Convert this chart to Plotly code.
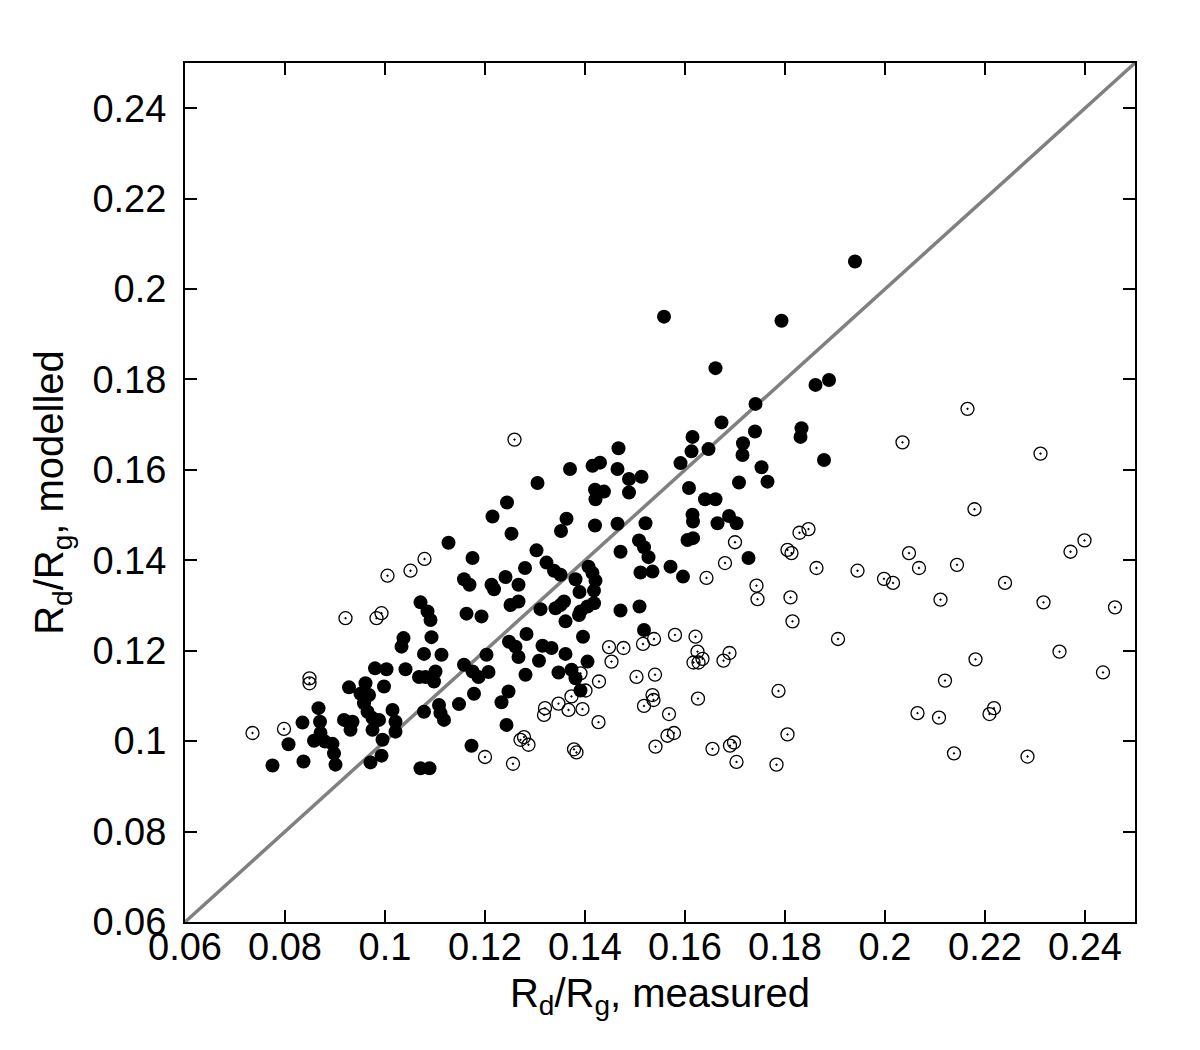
import plotly.graph_objects as go

# filled symbols
filled_x = [0.1940, 0.1558, 0.1793, 0.1661, 0.1861, 0.1888, 0.1741, 0.1878, 0.1673, 0.1740,
            0.1833, 0.1831, 0.1615, 0.1613, 0.1647, 0.1716, 0.1715, 0.1591, 0.1753, 0.1765,
            0.1708, 0.1513, 0.1608, 0.1640, 0.1661, 0.1615, 0.1616, 0.1665, 0.1688, 0.1703,
            0.1521, 0.1605, 0.1616, 0.1508, 0.1518, 0.1527, 0.1727, 0.1571, 0.1511, 0.1535,
            0.1596, 0.1509, 0.1518, 0.1467, 0.1370, 0.1415, 0.1430, 0.1465, 0.1488, 0.1305,
            0.1420, 0.1438, 0.1421, 0.1488, 0.1244, 0.1215, 0.1253, 0.1363, 0.1352, 0.1420,
            0.1465, 0.1127, 0.1303, 0.1471, 0.1175, 0.1323, 0.1338, 0.1351, 0.1381, 0.1407,
            0.1415, 0.1421, 0.1280, 0.1241, 0.1267, 0.1158, 0.1169, 0.1213, 0.1218, 0.1389,
            0.1418, 0.1418, 0.1405, 0.1391, 0.1388, 0.1358, 0.1351, 0.1341, 0.1311, 0.1251,
            0.1267, 0.1471, 0.1361, 0.1163, 0.1193, 0.1283, 0.1396, 0.1248, 0.1261, 0.1267,
            0.1315, 0.1333, 0.1361, 0.1308, 0.1113, 0.1203, 0.1405, 0.1158, 0.1175, 0.1187,
            0.1207, 0.1281, 0.1347, 0.1373, 0.1381, 0.1391, 0.1178, 0.1247, 0.1233, 0.1148,
            0.1108, 0.1111, 0.1118, 0.1243, 0.1173, 0.1071, 0.1085, 0.1091, 0.1037, 0.1033,
            0.1093, 0.1078, 0.0980, 0.1003, 0.1041, 0.1068, 0.1081, 0.1101, 0.1098, 0.0998,
            0.0961, 0.0928, 0.0951, 0.0968, 0.0958, 0.0965, 0.0867, 0.0870, 0.0835, 0.0918,
            0.0935, 0.0931, 0.0975, 0.0988, 0.1015, 0.1021, 0.0975, 0.0995, 0.1078, 0.0871,
            0.0858, 0.0880, 0.0895, 0.0898, 0.0901, 0.0807, 0.0837, 0.0775, 0.0971, 0.0993,
            0.1021, 0.1071, 0.1089]
filled_y = [0.2061, 0.1939, 0.1930, 0.1825, 0.1788, 0.1799, 0.1746, 0.1622, 0.1705, 0.1685,
            0.1692, 0.1673, 0.1673, 0.1641, 0.1646, 0.1659, 0.1633, 0.1615, 0.1606, 0.1574,
            0.1572, 0.1585, 0.1560, 0.1535, 0.1535, 0.1501, 0.1486, 0.1482, 0.1498, 0.1482,
            0.1482, 0.1445, 0.1449, 0.1444, 0.1429, 0.1407, 0.1405, 0.1386, 0.1373, 0.1375,
            0.1364, 0.1298, 0.1246, 0.1648, 0.1602, 0.1609, 0.1616, 0.1602, 0.1580, 0.1571,
            0.1556, 0.1552, 0.1535, 0.1550, 0.1528, 0.1497, 0.1459, 0.1492, 0.1465, 0.1477,
            0.1481, 0.1439, 0.1422, 0.1419, 0.1405, 0.1395, 0.1377, 0.1368, 0.1358, 0.1386,
            0.1372, 0.1355, 0.1383, 0.1363, 0.1346, 0.1358, 0.1346, 0.1346, 0.1336, 0.1330,
            0.1333, 0.1305, 0.1298, 0.1287, 0.1279, 0.1309, 0.1301, 0.1294, 0.1292, 0.1301,
            0.1309, 0.1289, 0.1265, 0.1282, 0.1276, 0.1237, 0.1231, 0.1220, 0.1209, 0.1186,
            0.1211, 0.1206, 0.1193, 0.1178, 0.1191, 0.1191, 0.1176, 0.1169, 0.1154, 0.1142,
            0.1153, 0.1147, 0.1152, 0.1158, 0.1139, 0.1112, 0.1105, 0.1110, 0.1086, 0.1082,
            0.1080, 0.1062, 0.1047, 0.1036, 0.0990, 0.1307, 0.1287, 0.1268, 0.1228, 0.1209,
            0.1230, 0.1193, 0.1161, 0.1159, 0.1159, 0.1142, 0.1142, 0.1154, 0.1132, 0.1121,
            0.1128, 0.1119, 0.1105, 0.1102, 0.1084, 0.1065, 0.1073, 0.1043, 0.1041, 0.1047,
            0.1043, 0.1025, 0.1051, 0.1047, 0.1069, 0.1043, 0.1025, 0.1003, 0.1065, 0.1018,
            0.1001, 0.0999, 0.0994, 0.0973, 0.0948, 0.0993, 0.0955, 0.0946, 0.0953, 0.0968,
            0.1021, 0.0940, 0.0940]

# open symbols
open_x = [0.1079, 0.1051, 0.1005, 0.0921, 0.0983, 0.0993, 0.0849, 0.0849, 0.0735, 0.0798,
          0.1259, 0.1448, 0.1477, 0.1453, 0.1391, 0.1401, 0.1428, 0.1373, 0.1347, 0.1367,
          0.1395, 0.1320, 0.1318, 0.1427, 0.1278, 0.1271, 0.1287, 0.1378, 0.1383, 0.1200,
          0.1256, 0.1700, 0.1680, 0.1643, 0.1829, 0.1847, 0.1805, 0.1813, 0.1863, 0.1743,
          0.1745, 0.1811, 0.1815, 0.1516, 0.1538, 0.1580, 0.1621, 0.1625, 0.1635, 0.1627,
          0.1617, 0.1689, 0.1677, 0.1503, 0.1540, 0.1535, 0.1537, 0.1518, 0.1568, 0.1626,
          0.1787, 0.1578, 0.1565, 0.1541, 0.1655, 0.1698, 0.1690, 0.1703, 0.1805, 0.1783,
          0.2165, 0.2035, 0.2311, 0.2179, 0.2048, 0.2068, 0.2144, 0.1945, 0.1998, 0.2016,
          0.2240, 0.2371, 0.2399, 0.2111, 0.2317, 0.2460, 0.1906, 0.2181, 0.2349, 0.2436,
          0.2120, 0.2065, 0.2108, 0.2218, 0.2209, 0.2138, 0.2285]
open_y = [0.1403, 0.1377, 0.1366, 0.1272, 0.1272, 0.1283, 0.1139, 0.1128, 0.1018, 0.1027,
          0.1667, 0.1208, 0.1206, 0.1176, 0.1150, 0.1112, 0.1132, 0.1099, 0.1083, 0.1069,
          0.1071, 0.1073, 0.1058, 0.1042, 0.1009, 0.1003, 0.0992, 0.0982, 0.0975, 0.0965,
          0.0950, 0.1440, 0.1394, 0.1361, 0.1461, 0.1469, 0.1423, 0.1416, 0.1383, 0.1344,
          0.1314, 0.1318, 0.1265, 0.1215, 0.1226, 0.1235, 0.1231, 0.1198, 0.1182, 0.1174,
          0.1174, 0.1195, 0.1178, 0.1142, 0.1147, 0.1102, 0.1091, 0.1078, 0.1060, 0.1094,
          0.1111, 0.1018, 0.1012, 0.0988, 0.0983, 0.0997, 0.0990, 0.0954, 0.1015, 0.0948,
          0.1735, 0.1661, 0.1636, 0.1513, 0.1416, 0.1383, 0.1390, 0.1377, 0.1359, 0.1350,
          0.1350, 0.1419, 0.1444, 0.1313, 0.1307, 0.1296, 0.1226, 0.1181, 0.1198, 0.1152,
          0.1134, 0.1062, 0.1052, 0.1073, 0.1060, 0.0973, 0.0966]

axis_range = [0.06, 0.25]
tick_vals = [0.06, 0.08, 0.10, 0.12, 0.14, 0.16, 0.18, 0.20, 0.22, 0.24]
tick_text = ["0.06", "0.08", "0.1", "0.12", "0.14", "0.16", "0.18", "0.2", "0.22", "0.24"]

font = "Liberation Sans, Arial, sans-serif"

fig = go.Figure()

# one-to-one line
fig.add_trace(go.Scatter(
    x=axis_range, y=axis_range, mode="lines",
    line=dict(color="rgb(128,128,128)", width=3.5),
    showlegend=False, hoverinfo="skip"))

fig.add_trace(go.Scatter(
    x=open_x, y=open_y, mode="markers",
    marker=dict(symbol="circle-open-dot", size=13, color="black",
                line=dict(width=1.3, color="black")),
    showlegend=False))

fig.add_trace(go.Scatter(
    x=filled_x, y=filled_y, mode="markers",
    marker=dict(symbol="circle", size=14, color="black", line=dict(width=0)),
    showlegend=False))

axis_style = dict(
    range=axis_range, tickvals=tick_vals, ticktext=tick_text,
    showgrid=False, zeroline=False, automargin=False,
    showline=True, linecolor="black", linewidth=2, mirror="ticks",
    ticks="inside", ticklen=12, tickwidth=2, tickcolor="black",
    tickfont=dict(family=font, size=38, color="black"),
)

fig.update_layout(
    width=1200, height=1050,
    margin=dict(l=177, r=73, t=55, b=136),
    plot_bgcolor="white", paper_bgcolor="white",
    font=dict(family=font, color="black"),
    xaxis=dict(axis_style,
               title=dict(text="R<sub>d</sub>/R<sub>g</sub>, measured",
                          font=dict(family=font, size=40), standoff=12),
               ticklabelstandoff=-10),
    yaxis=dict(axis_style,
               title=dict(text="R<sub>d</sub>/R<sub>g</sub>, modelled",
                          font=dict(family=font, size=40), standoff=16),
               ticklabelstandoff=9),
)

fig.write_html("out.html")
